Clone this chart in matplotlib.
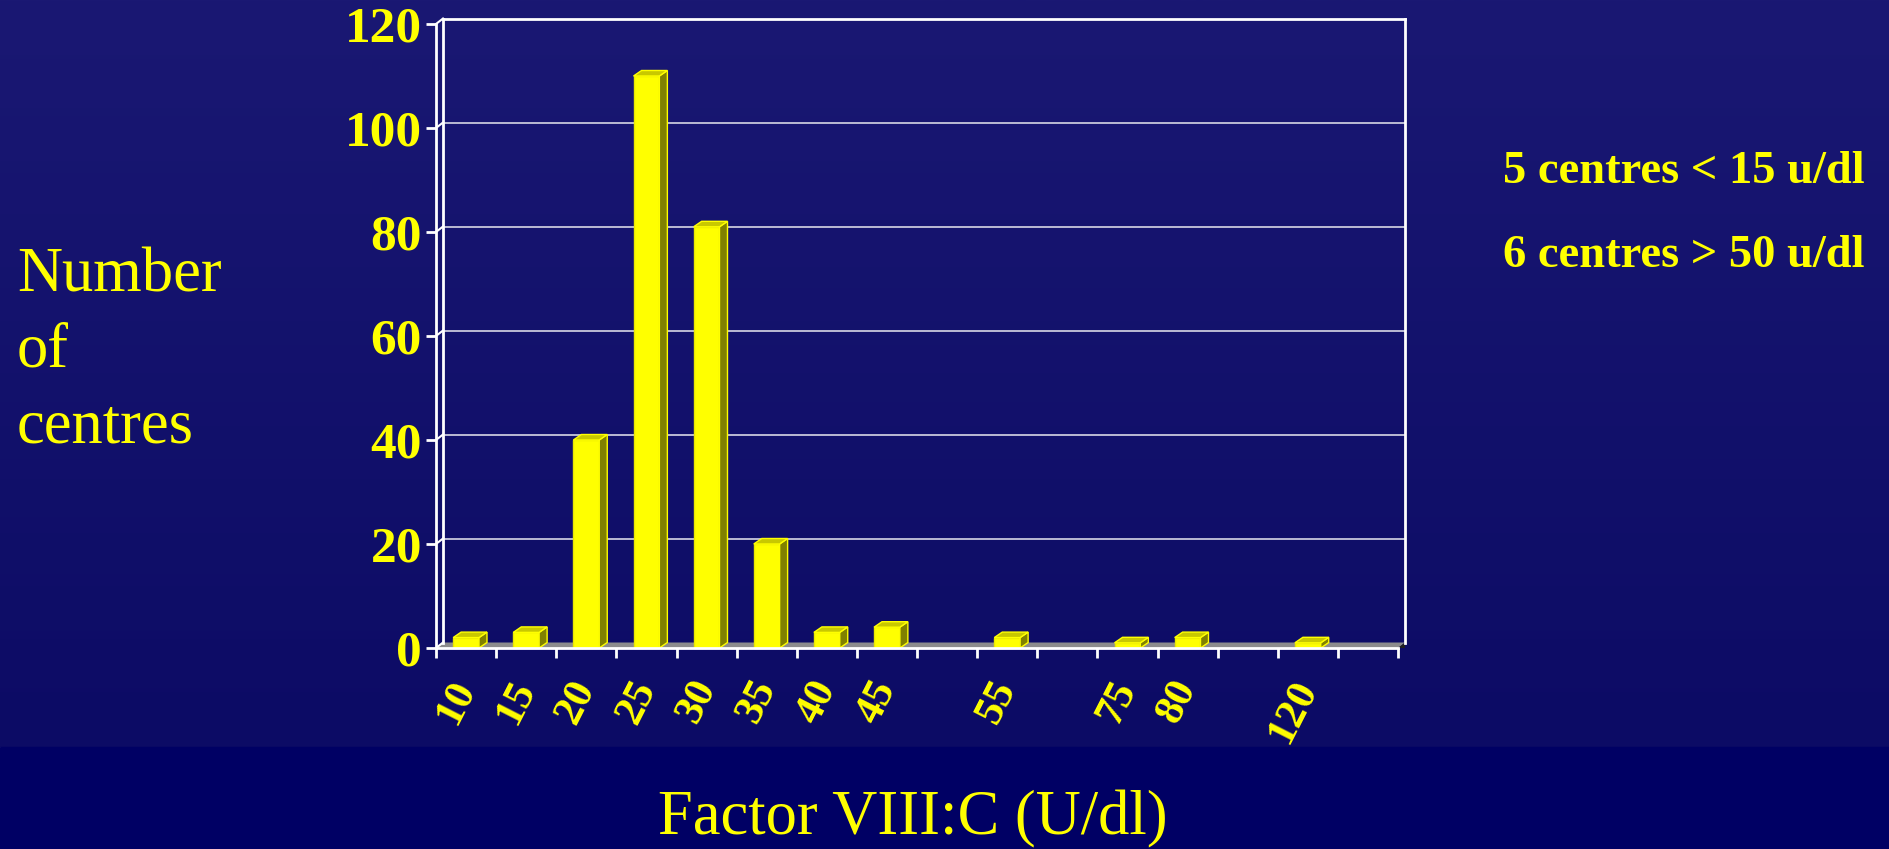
import numpy as np
import matplotlib.pyplot as plt
from matplotlib.patches import Polygon
from matplotlib.colors import LinearSegmentedColormap

# centres per Factor VIII:C band (empty bands have blank labels)
bands = ['10', '15', '20', '25', '30', '35', '40', '45', '', '55', '', '75', '80', '', '120', '']
centres = [2, 3, 40, 110, 81, 20, 3, 4, 0, 2, 0, 1, 2, 0, 1, 0]
yticks = [0, 20, 40, 60, 80, 100, 120]

YEL = '#ffff00'
serif = 'Liberation Serif'

W, H = 1890, 849
fig = plt.figure(figsize=(W / 100, H / 100), dpi=100)

# slide background: vertical gradient with a dark band at the bottom
bg = fig.add_axes([0, 0, 1, 1], zorder=-10)
bg.set_axis_off()
cm = LinearSegmentedColormap.from_list('slide', ['#1a1873', '#0c0b65'])
grad = np.linspace(0, 1, 256).reshape(-1, 1)
band_top = 1 - 747 / H
bg.imshow(grad, cmap=cm, aspect='auto', extent=[0, 1, band_top, 1])
bg.axhspan(0, band_top, color='#000064')
bg.set_xlim(0, 1)
bg.set_ylim(0, 1)

# plot area (front face of the 3d box)
x0, y0, pw, ph = 436, 648, 962, 624
ax = fig.add_axes([x0 / W, 1 - y0 / H, pw / W, ph / H])
ax.patch.set_alpha(0)
n = len(bands)
ax.set_xlim(0, n)
ax.set_ylim(0, 120)

# depth of the box and bars, converted from pixels to data units
DX, DY = 7 / (pw / n), 5.5 / (ph / 120)
BX, BY = 8 / (pw / n), 5.5 / (ph / 120)

wall = dict(color='white', lw=2, clip_on=False, zorder=2)
# floor
ax.add_patch(Polygon([(0, 0), (n, 0), (n + DX, DY), (DX, DY)], closed=True,
                     facecolor='#8c8c8c', edgecolor='none', clip_on=False, zorder=1))
ax.add_patch(Polygon([(n, 0), (n + DX, DY), (n + DX, 0)], closed=True,
                     facecolor='#202020', edgecolor='none', clip_on=False, zorder=1))
# back wall edges and gridlines
ax.plot([DX, DX], [DY, 120 + DY], **wall)
ax.plot([DX, n + DX], [120 + DY, 120 + DY], **wall)
ax.plot([n + DX, n + DX], [DY, 120 + DY], **wall)
for v in yticks[1:-1]:
    ax.plot([DX, n + DX], [v + DY, v + DY], color='#c8c8dc', lw=1.3, clip_on=False, zorder=1)
for v in yticks:
    ax.plot([0, DX], [v, v + DY], color='white', lw=1.5, clip_on=False, zorder=2)

# bars with top and side faces
x = np.arange(n) + 0.5
bw = 0.43
for xi, v in zip(x, centres):
    if v == 0:
        continue
    l, r = xi - bw / 2, xi + bw / 2
    ax.add_patch(Polygon([(l, 0), (r, 0), (r, v), (l, v)], closed=True,
                         facecolor=YEL, edgecolor='#e8e800', lw=1, zorder=4, clip_on=False))
    ax.add_patch(Polygon([(r, 0), (r + BX, BY), (r + BX, v + BY), (r, v)], closed=True,
                         facecolor='#808000', edgecolor=YEL, lw=1, zorder=4, clip_on=False))
    ax.add_patch(Polygon([(l, v), (r, v), (r + BX, v + BY), (l + BX, v + BY)], closed=True,
                         facecolor='#c8c800', edgecolor=YEL, lw=1, zorder=4, clip_on=False))

for s in ['top', 'right']:
    ax.spines[s].set_visible(False)
for s in ['left', 'bottom']:
    ax.spines[s].set_color('white')
    ax.spines[s].set_linewidth(2)
    ax.spines[s].set_zorder(5)

ax.set_yticks(yticks)
ax.set_yticklabels([str(t) for t in yticks], fontfamily=serif, fontweight='bold',
                   fontsize=37, color=YEL)
ax.tick_params(axis='y', colors='white', length=7, width=2, pad=3, labelcolor=YEL)

ax.set_xticks(np.arange(n + 1))
ax.set_xticklabels([])
ax.tick_params(axis='x', which='major', colors='white', length=7, width=2)
ax.set_xticks(x, minor=True)
ax.set_xticklabels(bands, minor=True, fontfamily=serif, fontweight='bold',
                   fontsize=31, color=YEL, rotation=63, rotation_mode='anchor',
                   ha='right', va='center')
ax.tick_params(axis='x', which='minor', length=0, pad=25)

# slide text
for txt, yb in [('Number', 292), ('of', 367), ('centres', 442)]:
    fig.text(17 / W, 1 - yb / H, txt, fontfamily=serif, fontsize=45, color=YEL,
             ha='left', va='baseline')
fig.text(1503 / W, 1 - 183 / H, '5 centres < 15 u/dl', fontfamily=serif,
         fontweight='bold', fontsize=33.5, color=YEL, ha='left', va='baseline')
fig.text(1503 / W, 1 - 267 / H, '6 centres > 50 u/dl', fontfamily=serif,
         fontweight='bold', fontsize=33.5, color=YEL, ha='left', va='baseline')
fig.text(913 / W, 1 - 834 / H, 'Factor VIII:C (U/dl)', fontfamily=serif,
         fontsize=45, color=YEL, ha='center', va='baseline')

fig.savefig('out.png', dpi=100)
